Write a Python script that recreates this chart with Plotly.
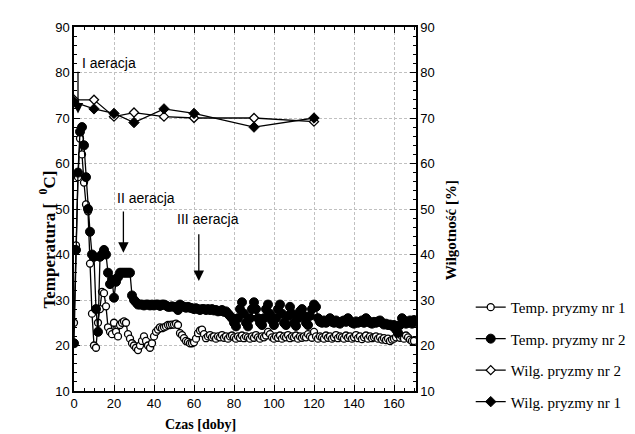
import plotly.graph_objects as go

days = list(range(0, 171))

temp_nr1 = [
    25, 42, 57, 65.5, 62, 55.8, 51, 49.5, 38, 27,
    20, 19.5, 25, 28, 31.8, 31.5, 28.6, 24, 23, 22.5,
    25, 23, 22, 24.5, 25, 25.3, 25, 22.5, 21.5, 20.5,
    20, 19.5, 19, 20, 21, 22, 21, 20, 19.5, 20.5,
    22, 23, 23.5, 24, 23.8, 24, 24.2, 24.5, 24.5, 24.6,
    24.6, 24.8, 24.5, 22.7, 22.3, 21.6, 21, 20.8, 20.5, 20.5,
    20.7, 21.5, 22.7, 23.3, 23.5, 22.5, 21.6, 22, 22.3, 21.8,
    22, 21.5, 22, 21.8, 22.3, 21.7, 22, 21.5, 22, 22.2,
    21.8, 21.5, 22, 21.7, 22.2, 21.6, 22, 21.8, 21.5, 22,
    21.7, 22.3, 21.8, 21.5, 22, 21.8, 22.2, 23, 22.5, 21.8,
    21.5, 22, 21.7, 22.2, 21.5, 22, 21.8, 22.3, 21.6, 22,
    21.8, 22.2, 21.5, 22, 21.7, 22, 21.8, 22.5, 22, 21.7,
    23, 22, 21.5, 22, 21.8, 21.5, 22.2, 21.7, 22, 21.5,
    21.8, 22.3, 21.6, 22, 21.8, 21.5, 22.2, 21.7, 22, 21.5,
    21.8, 22.3, 21.6, 22, 21.4, 21.8, 22.2, 21.5, 22, 21.6,
    21.8, 22, 21.5, 21.8, 21.3, 21.6, 21.2, 21.5, 21, 21.3,
    21.5, 21.8, 22.4, 21.7, 22, 21.5, 22.2, 21.8, 21.3, 21,
    21,
]

temp_nr2 = [
    20.5, 41, 58, 67, 68, 64, 57, 50, 45, 40,
    39.5, 28, 23, 39.5, 40, 41, 40, 36, 33.5, 34.5,
    30.5, 34, 35, 36, 36, 36, 36, 36, 36, 31,
    30, 29.5, 29, 29, 29, 28.8, 29, 29, 28.8, 29,
    28.8, 29, 29, 28.7, 29, 29, 28.8, 28.5, 28.5, 28.6,
    28.5, 28.5, 27.8, 29, 28.7, 28.5, 28.3, 28.5, 28.3, 28.2,
    28, 28.2, 28, 27.8, 28, 28, 27.8, 28, 27.8, 28,
    27.7, 27.8, 27.5, 27.6, 27.8, 27.4, 27.5, 27, 26.5, 26,
    25, 24.2, 26, 28, 29.5, 27, 25, 24.2, 26, 28,
    29.5, 28, 26, 25, 24.5, 26, 28, 29, 27, 25.5,
    24.5, 26, 28, 29, 27, 25, 24.5, 26.5, 28.5, 27,
    25, 24.3, 26, 27.5, 28, 26.5, 25, 24.5, 26.5, 28,
    29, 28.5, 26, 25.2, 25, 25.5, 25, 25.3, 26, 25.2,
    25, 25.5, 25, 24.8, 25.3, 25.5, 25.2, 26, 25.4, 25,
    24.8, 25.3, 25, 25.2, 25.5, 25, 26, 25.5, 25, 24.8,
    25.2, 25, 25.3, 25.5, 25, 24.6, 24.8, 24.5, 24.6, 24.3,
    24.5, 23.5, 22.8, 24.5, 26, 25.5, 24.8, 25, 25.5, 24.8,
    25.6,
]

hum_days = [0, 10, 20, 30, 45, 60, 90, 120]
wilg_nr2 = [74, 74, 70.3, 71.2, 70.3, 70, 70, 69.2]
wilg_nr1 = [73.5, 72, 71, 69, 72, 71, 68, 70]

x_ticks = [0, 20, 40, 60, 80, 100, 120, 140, 160]
y_ticks = [10, 20, 30, 40, 50, 60, 70, 80, 90]

serif = "Liberation Serif"
sans = "Liberation Sans"

fig = go.Figure()

fig.add_trace(go.Scatter(
    x=days, y=temp_nr1, mode="lines+markers", name="Temp. pryzmy nr 1",
    legendgroup="a",
    line=dict(color="black", width=1.3),
    marker=dict(symbol="circle", size=7, color="white", line=dict(color="black", width=1.3)),
))
fig.add_trace(go.Scatter(
    x=days, y=temp_nr2, mode="lines+markers", name="Temp. pryzmy nr 2",
    legendgroup="b",
    line=dict(color="black", width=1.3),
    marker=dict(symbol="circle", size=9, color="black", line=dict(color="black", width=1)),
))
fig.add_trace(go.Scatter(
    x=hum_days, y=wilg_nr2, mode="lines+markers", name="Wilg. pryzmy nr 2",
    legendgroup="c", yaxis="y2",
    line=dict(color="black", width=1.3),
    marker=dict(symbol="diamond", size=7, color="white", line=dict(color="black", width=1.3)),
))
fig.add_trace(go.Scatter(
    x=hum_days, y=wilg_nr1, mode="lines+markers", name="Wilg. pryzmy nr 1",
    legendgroup="d", yaxis="y2",
    line=dict(color="black", width=1.3),
    marker=dict(symbol="diamond", size=8, color="black", line=dict(color="black", width=1)),
))

axis_common = dict(
    showline=True, linecolor="black", linewidth=1.5,
    ticks="inside", ticklen=6, tickcolor="black", tickwidth=1,
    tickfont=dict(family=sans, size=13, color="black"),
    zeroline=False,
)

fig.update_layout(
    width=635, height=434,
    margin=dict(l=66, r=215, t=15, b=51),
    paper_bgcolor="white", plot_bgcolor="white",
    showlegend=True,
    legend=dict(
        x=1.16, y=0.275, xanchor="left", yanchor="top",
        font=dict(family=serif, size=15, color="black"),
        tracegroupgap=9, bgcolor="rgba(0,0,0,0)",
    ),
    xaxis=dict(
        range=[0, 171], tickvals=x_ticks, mirror="ticks",
        showgrid=True, gridcolor="#c0c0c0", griddash="3px,2px", gridwidth=1,
        minor=dict(ticks="inside", dtick=5, tick0=0, ticklen=3, tickcolor="black", showgrid=False),
        **axis_common,
    ),
    yaxis=dict(
        range=[10, 90], tickvals=y_ticks,
        showgrid=True, gridcolor="#c0c0c0", griddash="3px,2px", gridwidth=1,
        minor=dict(ticks="inside", dtick=2, tick0=10, ticklen=3, tickcolor="black", showgrid=False),
        **axis_common,
    ),
    yaxis2=dict(
        range=[10, 90], tickvals=y_ticks, overlaying="y", side="right",
        showgrid=False,
        minor=dict(ticks="inside", dtick=2, tick0=10, ticklen=3, tickcolor="black", showgrid=False),
        **axis_common,
    ),
)

annotations = [
    dict(text="Czas [doby]", x=63, xref="x", y=-0.093, yref="paper", showarrow=False,
         font=dict(family=serif, size=14, color="black", weight="bold"), yanchor="middle"),
    dict(text="Temperatura [  <sup>0</sup>C]", x=-0.117, xref="paper", y=0.416, yref="paper",
         textangle=-90, showarrow=False,
         font=dict(family=serif, size=17, color="black", weight="bold")),
    dict(text="Wilgotność [%]", x=1.13, xref="paper", y=0.443, yref="paper",
         textangle=-90, showarrow=False,
         font=dict(family=serif, size=15, color="black", weight="bold")),
    dict(text="I aeracja", x=17.5, y=82, xref="x", yref="y", showarrow=False,
         font=dict(family=sans, size=14, color="black")),
    dict(text="II aeracja", x=36, y=52.4, xref="x", yref="y", showarrow=False,
         font=dict(family=sans, size=14, color="black")),
    dict(text="III aeracja", x=67, y=47.8, xref="x", yref="y", showarrow=False,
         font=dict(family=sans, size=14, color="black")),
]
for ax_day, top, tip in [(2, 80.5, 71), (24.7, 49.8, 40.4), (62.4, 44.8, 34.2)]:
    annotations.append(dict(
        x=ax_day, y=tip, ax=ax_day, ay=top, xref="x", yref="y", axref="x", ayref="y",
        text="", showarrow=True, arrowhead=2, arrowsize=1.6, arrowwidth=1.3, arrowcolor="black",
    ))
fig.update_layout(annotations=annotations)

fig.write_html("out.html")
